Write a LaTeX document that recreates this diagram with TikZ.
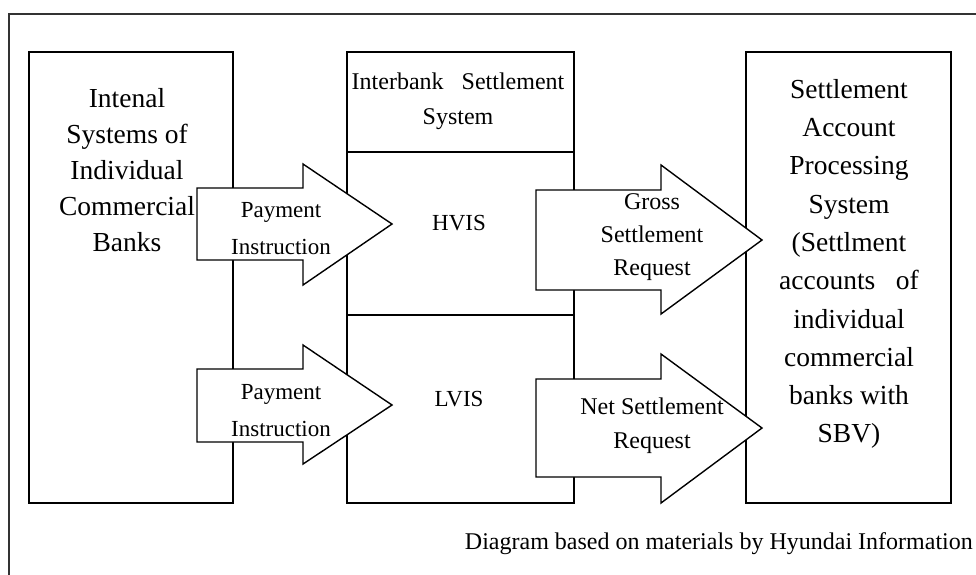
\documentclass[tikz,border=0pt]{standalone}
\usepackage{fontspec}
\setmainfont{Liberation Serif}
\begin{document}
\begin{tikzpicture}[x=1pt,y=-1pt,
  ln/.style={line width=1.4pt,black},
  boxnode/.style={draw,ln,rectangle,inner sep=0pt,outer sep=0pt},
  bigtxt/.style={align=center,font=\fontsize{27.5}{36}\selectfont,inner sep=0pt},
  smalltxt/.style={align=center,font=\fontsize{23}{35}\selectfont,inner sep=0pt},
  arrowshape/.style={ln,fill=white,line join=miter}]
\useasboundingbox (0,0) rectangle (976,574);
\fill[white] (0,0) rectangle (976,574);
% outer frame (only top and left visible)
\coordinate (fbl) at (9,580);
\coordinate (ftl) at (9,14);
\coordinate (ftr) at (980,14);
\draw[line width=1.6pt,black!80] (fbl) -- (ftl) -- (ftr);
% boxes
\node[boxnode,minimum width=204pt,minimum height=451pt] (left) at (131,277.5) {};
\node[boxnode,minimum width=227pt,minimum height=451pt] (mid) at (460.5,277.5) {};
\node[boxnode,minimum width=205pt,minimum height=451pt] (right) at (848.5,277.5) {};
\coordinate (d1l) at (347,152); \coordinate (d1r) at (574,152);
\coordinate (d2l) at (347,315); \coordinate (d2r) at (574,315);
\draw[ln] (d1l) -- (d1r);
\draw[ln] (d2l) -- (d2r);
% arrows
\draw[arrowshape] (197,188) -- (303,188) -- (303,164) -- (392,224) -- (303,285) -- (303,260) -- (197,260) -- cycle;
\draw[arrowshape] (197,369) -- (303,369) -- (303,345) -- (392,405) -- (303,464) -- (303,442) -- (197,442) -- cycle;
\draw[arrowshape] (536,190) -- (661,190) -- (661,165) -- (762,240) -- (661,314) -- (661,290) -- (536,290) -- cycle;
\draw[arrowshape] (536,379) -- (661,379) -- (661,354) -- (762,428) -- (661,503) -- (661,477) -- (536,477) -- cycle;
% texts
\node[bigtxt] (tleft) at (127,170) {Intenal\\Systems of\\Individual\\Commercial\\Banks};
\node[bigtxt,font=\fontsize{27.5}{38.3}\selectfont] (tright) at (849,264) {Settlement\\Account\\Processing\\System\\(Settlment\\accounts\ \ \ of\\individual\\commercial\\banks with\\SBV)};
\node[smalltxt,font=\fontsize{24}{35}\selectfont] (tisys) at (458,101) {Interbank\ \ \ Settlement\\System};
\node[smalltxt] (thvis) at (459,223) {HVIS};
\node[smalltxt] (tlvis) at (459,399) {LVIS};
\node[smalltxt,font=\fontsize{23}{37}\selectfont] (tp1) at (281,229) {Payment\\Instruction};
\node[smalltxt,font=\fontsize{23}{37}\selectfont] (tp2) at (281,411) {Payment\\Instruction};
\node[smalltxt,font=\fontsize{24}{33}\selectfont] (tgross) at (652,237) {Gross\\Settlement\\Request};
\node[smalltxt,font=\fontsize{24}{34}\selectfont] (tnet) at (652,426) {Net Settlement\\Request};
\node[smalltxt,font=\fontsize{24}{28}\selectfont,anchor=east] (caption) at (973,544) {Diagram based on materials by Hyundai Information};
\end{tikzpicture}
\end{document}
